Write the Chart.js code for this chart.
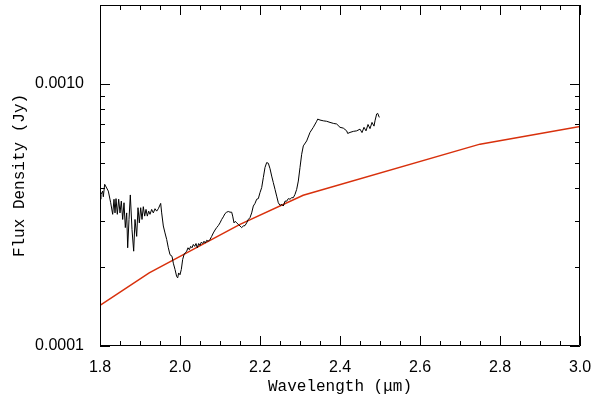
<!DOCTYPE html>
<html lang="en">
<head>
  <meta charset="UTF-8">
  <title>Flux density vs wavelength</title>
  <style>
    html, body { margin: 0; padding: 0; background: #fff; }
    .chart-container { width: 595px; height: 396px; }
  </style>
</head>
<body>
  <div class="chart-container">
    <canvas id="fluxChart"></canvas>
  </div>

  <script src="https://cdn.jsdelivr.net/npm/chart.js"></script>
  <script>
    // observed spectrum: wavelength (micron) and flux (units of 1e-4 Jy)
    const specWave = [
      1.800, 1.8025, 1.8067, 1.8083, 1.8117, 1.8208, 1.8267, 1.8317, 1.835, 1.8375,
      1.84, 1.8433, 1.8467, 1.85, 1.8533, 1.8567, 1.86, 1.8633, 1.8667, 1.8692,
      1.8725, 1.8758, 1.88, 1.8842, 1.8875, 1.8917, 1.895, 1.8983, 1.9017, 1.905,
      1.9083, 1.9117, 1.915, 1.9183, 1.9217, 1.925, 1.9292, 1.9333, 1.9375, 1.9417,
      1.9458, 1.9517, 1.9542, 1.9583, 1.9625, 1.9667, 1.9708, 1.975, 1.98, 1.9833,
      1.9875, 1.9917, 1.9942, 1.9967, 2.0, 2.0033, 2.0067, 2.01, 2.0133, 2.0167,
      2.02, 2.0233, 2.0267, 2.03, 2.0333, 2.0367, 2.04, 2.0433, 2.0467, 2.05,
      2.0533, 2.0567, 2.06, 2.0633, 2.0667, 2.0708, 2.075, 2.0792, 2.0833, 2.0875,
      2.0917, 2.0958, 2.1, 2.1042, 2.1083, 2.1125, 2.1167, 2.1208, 2.125, 2.1292,
      2.1317, 2.135, 2.1383, 2.1417, 2.1458, 2.15, 2.1542, 2.1583, 2.1625, 2.1667,
      2.1708, 2.175, 2.1792, 2.1833, 2.1875, 2.1917, 2.1958, 2.2, 2.2042, 2.2083,
      2.2125, 2.2167, 2.2208, 2.225, 2.2292, 2.2333, 2.2375, 2.2417, 2.2458, 2.25,
      2.2542, 2.2583, 2.2625, 2.2667, 2.2708, 2.275, 2.2792, 2.2833, 2.2875,
      2.2917, 2.2958, 2.3, 2.3042, 2.3083, 2.3167, 2.325, 2.3333, 2.3417, 2.3442,
      2.35, 2.3583, 2.3667, 2.375, 2.3833, 2.3917, 2.4, 2.4083, 2.4167, 2.4192,
      2.425, 2.4333, 2.4417, 2.45, 2.455, 2.46, 2.465, 2.47, 2.475, 2.48,
      2.485, 2.4875, 2.4917, 2.4942, 2.4983
    ];
    const specFlux = [
      3.63, 3.79, 3.90, 3.71, 4.14, 3.90, 3.52, 3.18, 3.63, 3.22,
      3.65, 3.18, 3.63, 3.22, 3.57, 3.04, 3.52, 2.83, 3.22, 2.37,
      3.04, 3.77, 2.78, 2.30, 3.04, 2.62, 3.37, 2.95, 3.37, 3.04,
      3.40, 3.13, 3.32, 3.13, 3.27, 3.18, 3.32, 3.22, 3.34, 3.27,
      3.34, 3.50, 3.22, 2.87, 2.70, 2.55, 2.37, 2.23, 2.20, 2.07,
      1.96, 1.84, 1.82, 1.90, 1.87, 1.96, 2.14, 2.23, 2.27, 2.30,
      2.37, 2.33, 2.40, 2.37, 2.44, 2.40, 2.46, 2.37, 2.46, 2.42,
      2.49, 2.46, 2.51, 2.47, 2.53, 2.51, 2.55, 2.62, 2.70, 2.77,
      2.83, 2.88, 2.95, 3.04, 3.11, 3.20, 3.24, 3.26, 3.24, 3.24,
      3.13, 2.95, 2.99, 2.95, 2.91, 2.87, 2.83, 2.87, 2.88, 2.95,
      3.04, 3.09, 3.22, 3.42, 3.50, 3.63, 3.65, 3.85, 4.02, 4.39,
      4.80, 5.01, 4.98, 4.75, 4.45, 4.20, 3.96, 3.73, 3.52, 3.44,
      3.47, 3.42, 3.57, 3.57, 3.65, 3.63, 3.68, 3.68, 3.79,
      3.96, 4.26, 4.80, 5.39, 5.80, 6.06, 6.53, 6.83, 7.20, 7.34,
      7.28, 7.23, 7.20, 7.13, 7.07, 7.03, 6.83, 6.78, 6.62, 6.47,
      6.53, 6.59, 6.62, 6.72, 6.52, 6.83, 6.62, 7.00, 6.75, 7.13,
      6.90, 7.23, 7.68, 7.72, 7.45
    ];

    // model curve (units of 1e-4 Jy)
    const modelWave = [1.80, 1.923, 2.15, 2.308, 2.75, 3.00];
    const modelFlux = [1.43, 1.90, 2.91, 3.76, 5.89, 6.88];

    // axis ticks
    const xMajor = [1.8, 2.0, 2.2, 2.4, 2.6, 2.8, 3.0];
    const xMinor = [1.85, 1.9, 1.95, 2.05, 2.1, 2.15, 2.25, 2.3, 2.35, 2.45, 2.5, 2.55,
                    2.65, 2.7, 2.75, 2.85, 2.9, 2.95];
    const yMajor = [0.0001, 0.0010];
    const yMajorLabels = ['0.0001', '0.0010'];
    const yMinor = [0.0002, 0.0003, 0.0004, 0.0005, 0.0006, 0.0007, 0.0008, 0.0009, 0.002];

    const toPoints = (w, f) => w.map((x, i) => ({ x: x, y: f[i] * 1e-4 }));

    // IDL-style frame: box with inward ticks on all four sides
    const framePlugin = {
      id: 'frame',
      afterDraw(chart) {
        const { ctx, chartArea: { left, right, top, bottom }, scales: { x, y } } = chart;
        ctx.save();
        ctx.strokeStyle = '#000';
        ctx.lineWidth = 1;
        ctx.beginPath();
        ctx.rect(left + 0.5, top + 0.5, right - left - 1, bottom - top - 1);
        const xt = (v, len) => {
          const p = Math.round(x.getPixelForValue(v)) + 0.5;
          ctx.moveTo(p, bottom); ctx.lineTo(p, bottom - len);
          ctx.moveTo(p, top); ctx.lineTo(p, top + len);
        };
        const yt = (v, len) => {
          const p = Math.round(y.getPixelForValue(v)) + 0.5;
          ctx.moveTo(left, p); ctx.lineTo(left + len, p);
          ctx.moveTo(right, p); ctx.lineTo(right - len, p);
        };
        xMajor.forEach(v => xt(v, 10));
        xMinor.forEach(v => xt(v, 5));
        yMajor.forEach(v => yt(v, 10));
        yMinor.forEach(v => yt(v, 5));
        ctx.stroke();
        ctx.restore();
      }
    };

    const ctx = document.getElementById('fluxChart').getContext('2d');

    new Chart(ctx, {
      type: 'line',
      data: {
        datasets: [
          {
            label: 'spectrum',
            data: toPoints(specWave, specFlux),
            borderColor: '#000',
            borderWidth: 1,
            pointRadius: 0,
            tension: 0
          },
          {
            label: 'model',
            data: toPoints(modelWave, modelFlux),
            borderColor: '#d8300c',
            borderWidth: 1.5,
            pointRadius: 0,
            tension: 0
          }
        ]
      },
      options: {
        responsive: true,
        maintainAspectRatio: false,
        animation: false,
        layout: { padding: { top: 5, right: 15, left: 0, bottom: 0 } },
        plugins: {
          legend: { display: false },
          tooltip: { enabled: false }
        },
        scales: {
          x: {
            type: 'linear',
            min: 1.8,
            max: 3.0,
            grid: { display: false },
            border: { display: false },
            afterBuildTicks: (scale) => { scale.ticks = xMajor.map(v => ({ value: v })); },
            afterFit: (scale) => {
              scale.height = 50;
              scale.paddingLeft = 0;
              scale.paddingRight = 0;
            },
            ticks: {
              color: '#000',
              padding: 4,
              font: { family: 'Liberation Sans', size: 16 },
              callback: (v) => Number(v).toFixed(1)
            },
            title: {
              display: true,
              text: 'Wavelength (\u03bcm)',
              color: '#000',
              padding: { top: 0, bottom: 0 },
              font: { family: 'Liberation Mono', size: 16 }
            }
          },
          y: {
            type: 'logarithmic',
            min: 0.0001,
            max: 0.002,
            grid: { display: false },
            border: { display: false },
            afterBuildTicks: (scale) => { scale.ticks = yMajor.map(v => ({ value: v })); },
            afterFit: (scale) => {
              scale.width = 100;
              scale.paddingTop = 0;
              scale.paddingBottom = 0;
            },
            ticks: {
              color: '#000',
              padding: 8,
              font: { family: 'Liberation Sans', size: 16 },
              callback: (v) => {
                const i = yMajor.indexOf(v);
                return i >= 0 ? yMajorLabels[i] : '';
              }
            },
            title: {
              display: true,
              text: 'Flux Density (Jy)',
              color: '#000',
              padding: { top: 10, bottom: 0 },
              font: { family: 'Liberation Mono', size: 16 }
            }
          }
        }
      },
      plugins: [framePlugin]
    });
  </script>
</body>
</html>
